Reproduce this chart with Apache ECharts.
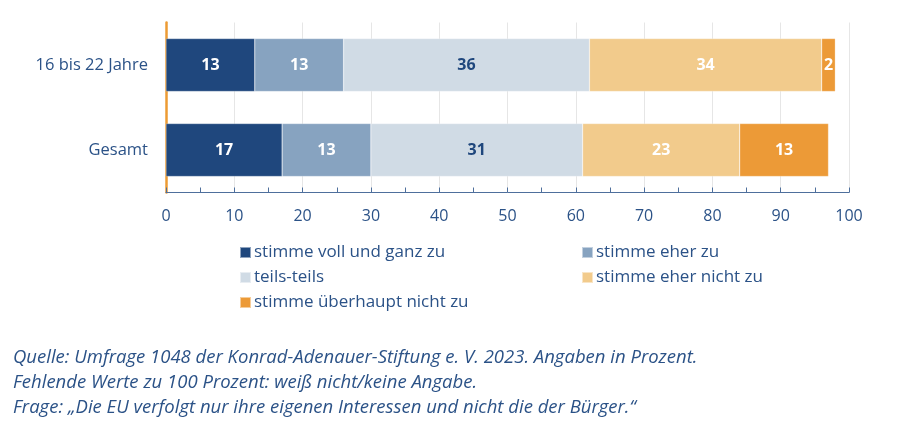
<!DOCTYPE html>
<html>
<head>
<meta charset="utf-8">
<script src="https://cdn.jsdelivr.net/npm/echarts@6/dist/echarts.min.js"></script>
<style>
html,body{margin:0;padding:0;background:#fff;}
#c{width:900px;height:437px;}
</style>
</head>
<body>
<div id="c"></div>
<script>
const categories = ['16 bis 22 Jahre', 'Gesamt'];
const seriesNames = ['stimme voll und ganz zu', 'stimme eher zu', 'teils-teils', 'stimme eher nicht zu', 'stimme überhaupt nicht zu'];
const vollUndGanz = [13, 17];
const eherZu = [13, 13];
const teilsTeils = [36, 31];
const eherNicht = [34, 23];
const ueberhauptNicht = [2, 13];
const xTicks = [0, 10, 20, 30, 40, 50, 60, 70, 80, 90, 100];
const footerLines = [
  'Quelle: Umfrage 1048 der Konrad-Adenauer-Stiftung e. V. 2023. Angaben in Prozent.',
  'Fehlende Werte zu 100 Prozent: weiß nicht/keine Angabe.',
  'Frage: „Die EU verfolgt nur ihre eigenen Interessen und nicht die der Bürger.“'
];

const values = [vollUndGanz, eherZu, teilsTeils, eherNicht, ueberhauptNicht];
const colors = ['#1F477D', '#87A3C0', '#D0DBE5', '#F2CB8C', '#EC9A37'];
const labelColors = ['#ffffff', '#ffffff', '#1F477D', '#ffffff', '#ffffff'];
const textColor = '#2B5287';
const font = '"Open Sans", sans-serif';

const legendText = {fontFamily: font, fontSize: 17, color: textColor, padding: [0, 0, 0, -2]};

const chart = echarts.init(document.getElementById('c'), null, {renderer: 'canvas'});
chart.setOption({
  animation: false,
  title: {
    text: footerLines.join('\n'),
    left: 13, top: 345, padding: 0,
    textStyle: {fontFamily: font, fontSize: 18.5, fontStyle: 'italic', fontWeight: 'normal', color: textColor, lineHeight: 25}
  },
  legend: [
    {
      orient: 'vertical', left: 239, top: 244, padding: 0, itemWidth: 11, itemHeight: 11, itemGap: 8,
      icon: 'rect', data: [seriesNames[0], seriesNames[2], seriesNames[4]],
      textStyle: legendText
    },
    {
      orient: 'vertical', left: 581, top: 244, padding: 0, itemWidth: 11, itemHeight: 11, itemGap: 8,
      icon: 'rect', data: [seriesNames[1], seriesNames[3]],
      textStyle: legendText
    }
  ],
  grid: {left: 166, right: 51, top: 22.5, height: 170},
  xAxis: {
    type: 'value', min: xTicks[0], max: xTicks[xTicks.length - 1], interval: 10,
    axisLine: {show: true, lineStyle: {color: '#4E6F9C', width: 1}},
    axisTick: {show: true, inside: true, length: 5, lineStyle: {color: '#4E6F9C'}},
    minorTick: {show: true, splitNumber: 2, length: 5, lineStyle: {color: '#4E6F9C'}},
    splitLine: {show: true, lineStyle: {color: '#E6E6E6', width: 1}},
    axisLabel: {fontFamily: font, fontSize: 16, color: textColor, margin: 16}
  },
  yAxis: {
    type: 'category', data: categories, inverse: true,
    axisLine: {show: true, lineStyle: {color: '#ED9B33', width: 2.5}},
    axisTick: {show: false},
    axisLabel: {fontFamily: font, fontSize: 16.5, color: textColor, margin: 18}
  },
  series: seriesNames.map((name, i) => ({
    name: name, type: 'bar', stack: 'total', barWidth: 53,
    data: values[i],
    itemStyle: {color: colors[i], borderColor: 'rgba(255,255,255,0.5)', borderWidth: 0.5},
    label: {show: true, position: 'inside', fontFamily: font, fontWeight: 'bold', fontSize: 16, color: labelColors[i]}
  }))
});
</script>
</body>
</html>
